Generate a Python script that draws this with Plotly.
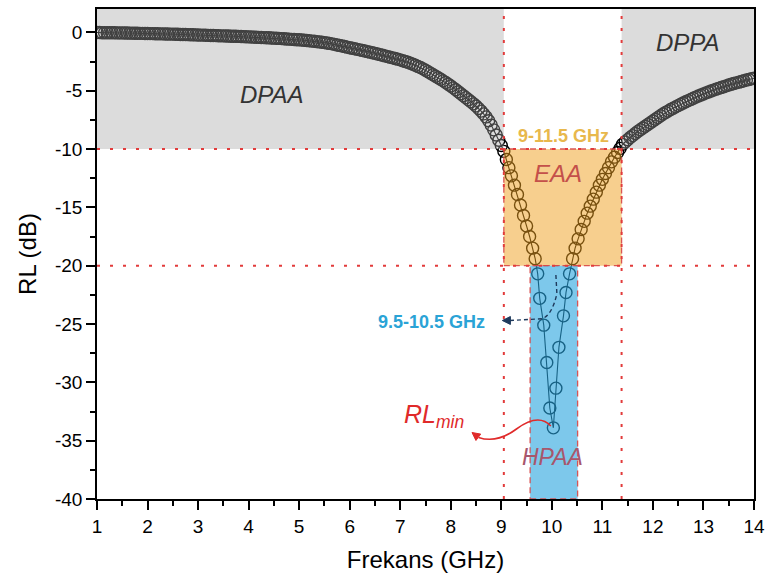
import plotly.graph_objects as go

# ---- data ----
freq_left = [1.00, 1.05, 1.10, 1.15, 1.20, 1.25, 1.30, 1.35, 1.40, 1.45,
             1.50, 1.55, 1.60, 1.65, 1.70, 1.75, 1.80, 1.85, 1.90, 1.95,
             2.00, 2.05, 2.10, 2.15, 2.20, 2.25, 2.30, 2.35, 2.40, 2.45,
             2.50, 2.55, 2.60, 2.65, 2.70, 2.75, 2.80, 2.85, 2.90, 2.95,
             3.00, 3.05, 3.10, 3.15, 3.20, 3.25, 3.30, 3.35, 3.40, 3.45,
             3.50, 3.55, 3.60, 3.65, 3.70, 3.75, 3.80, 3.85, 3.90, 3.95,
             4.00, 4.05, 4.10, 4.15, 4.20, 4.25, 4.30, 4.35, 4.40, 4.45,
             4.50, 4.55, 4.60, 4.65, 4.70, 4.75, 4.80, 4.85, 4.90, 4.95,
             5.00, 5.05, 5.10, 5.15, 5.20, 5.25, 5.30, 5.35, 5.40, 5.45,
             5.50, 5.55, 5.60, 5.65, 5.70, 5.75, 5.80, 5.85, 5.90, 5.95,
             6.00, 6.05, 6.10, 6.15, 6.20, 6.25, 6.30, 6.35, 6.40, 6.45,
             6.50, 6.55, 6.60, 6.65, 6.70, 6.75, 6.80, 6.85, 6.90, 6.95,
             7.00, 7.05, 7.10, 7.15, 7.20, 7.25, 7.30, 7.35, 7.40, 7.45,
             7.50, 7.55, 7.60, 7.65, 7.70, 7.75, 7.80, 7.85, 7.90, 7.95,
             8.00, 8.05, 8.10, 8.15, 8.20, 8.25, 8.30, 8.35, 8.40, 8.45,
             8.50, 8.55, 8.60, 8.65, 8.70, 8.75, 8.80, 8.85, 8.90, 8.95, 9.00]
rl_left = [-0.02, -0.02, -0.03, -0.03, -0.03, -0.04, -0.04, -0.04, -0.05, -0.05,
           -0.05, -0.06, -0.06, -0.07, -0.07, -0.08, -0.08, -0.09, -0.09, -0.10,
           -0.10, -0.11, -0.11, -0.12, -0.12, -0.13, -0.13, -0.14, -0.14, -0.15,
           -0.15, -0.16, -0.17, -0.18, -0.18, -0.19, -0.20, -0.21, -0.21, -0.22,
           -0.23, -0.24, -0.24, -0.25, -0.26, -0.27, -0.27, -0.28, -0.29, -0.30,
           -0.30, -0.31, -0.32, -0.33, -0.33, -0.34, -0.35, -0.36, -0.37, -0.38,
           -0.39, -0.40, -0.41, -0.42, -0.43, -0.44, -0.45, -0.46, -0.47, -0.48,
           -0.50, -0.51, -0.52, -0.54, -0.55, -0.57, -0.58, -0.60, -0.61, -0.63,
           -0.64, -0.66, -0.68, -0.70, -0.72, -0.75, -0.77, -0.80, -0.82, -0.85,
           -0.88, -0.92, -0.95, -0.99, -1.03, -1.08, -1.12, -1.17, -1.22, -1.27,
           -1.32, -1.37, -1.41, -1.46, -1.50, -1.55, -1.60, -1.65, -1.70, -1.75,
           -1.80, -1.86, -1.91, -1.97, -2.02, -2.08, -2.13, -2.19, -2.24, -2.30,
           -2.36, -2.43, -2.50, -2.57, -2.65, -2.73, -2.82, -2.92, -3.02, -3.13,
           -3.25, -3.37, -3.50, -3.63, -3.76, -3.89, -4.02, -4.16, -4.30, -4.45,
           -4.60, -4.76, -4.92, -5.09, -5.26, -5.43, -5.60, -5.77, -5.95, -6.13,
           -6.32, -6.53, -6.75, -6.99, -7.25, -7.58, -7.95, -8.36, -8.80, -9.25, -9.70]

freq_dip = [9.05, 9.10, 9.15, 9.20, 9.26, 9.32, 9.38, 9.44, 9.50, 9.56, 9.62, 9.67,
            9.72, 9.76, 9.84, 9.90, 9.96, 10.03,
            10.08, 10.14, 10.23, 10.28, 10.35,
            10.41, 10.46, 10.52, 10.58, 10.64, 10.70, 10.76, 10.82, 10.88, 10.94,
            11.00, 11.06, 11.12, 11.18, 11.24, 11.30, 11.35]
rl_dip = [-10.2, -10.9, -11.6, -12.3, -13.1, -13.9, -14.8, -15.7, -16.6, -17.5, -18.5, -19.4,
          -20.7, -22.8, -25.1, -28.3, -32.2, -33.9,
          -30.5, -27.0, -24.3, -22.3, -20.7,
          -19.4, -18.5, -17.7, -16.9, -16.2, -15.5, -14.9, -14.3, -13.7, -13.1,
          -12.6, -12.1, -11.6, -11.1, -10.7, -10.3, -9.95]

freq_right = [11.40, 11.45, 11.50, 11.55, 11.60, 11.65, 11.70, 11.75, 11.80, 11.85,
              11.90, 11.95, 12.00, 12.05, 12.10, 12.15, 12.20, 12.25, 12.30, 12.35,
              12.40, 12.45, 12.50, 12.55, 12.60, 12.65, 12.70, 12.75, 12.80, 12.85,
              12.90, 12.95, 13.00, 13.05, 13.10, 13.15, 13.20, 13.25, 13.30, 13.35,
              13.40, 13.45, 13.50, 13.55, 13.60, 13.65, 13.70, 13.75, 13.80, 13.85,
              13.90, 13.95, 14.00]
rl_right = [-9.60, -9.40, -9.20, -9.02, -8.85, -8.67, -8.50, -8.35, -8.20, -8.05,
            -7.90, -7.75, -7.60, -7.45, -7.30, -7.15, -7.00, -6.87, -6.75, -6.62,
            -6.50, -6.39, -6.28, -6.17, -6.06, -5.95, -5.85, -5.75, -5.65, -5.55,
            -5.46, -5.37, -5.28, -5.19, -5.11, -5.03, -4.95, -4.87, -4.80, -4.73,
            -4.66, -4.59, -4.52, -4.45, -4.39, -4.33, -4.27, -4.21, -4.15, -4.09,
            -4.04, -3.98, -3.93]

x_ticks = [1, 2, 3, 4, 5, 6, 7, 8, 9, 10, 11, 12, 13, 14]
x_labels = ["1", "2", "3", "4", "5", "6", "7", "8", "9", "10", "11", "12", "13", "14"]
y_ticks = [0, -5, -10, -15, -20, -25, -30, -35, -40]
y_labels = ["0", "-5", "-10", "-15", "-20", "-25", "-30", "-35", "-40"]

# region boundaries (GHz / dB)
band_lo, band_hi = 9.05, 11.38
hp_lo, hp_hi = 9.57, 10.51
rl10, rl20 = -10, -20

freq = freq_left + freq_dip + freq_right
rl = rl_left + rl_dip + rl_right

FONT = "Liberation Sans, Arial, sans-serif"

fig = go.Figure()
fig.add_trace(go.Scatter(
    x=freq, y=rl, mode="lines+markers",
    line=dict(color="black", width=1.1),
    marker=dict(symbol="circle-open", size=12, color="black", line=dict(width=1.4)),
    showlegend=False, hoverinfo="skip"))

shapes = []
# translucent region overlays (above the curve)
shapes.append(dict(type="rect", xref="x", yref="y", x0=1, x1=band_lo, y0=rl10, y1=2,
                   fillcolor="rgba(165,165,165,0.39)", line=dict(width=0), layer="above"))
shapes.append(dict(type="rect", xref="x", yref="y", x0=band_hi, x1=14, y0=rl10, y1=2,
                   fillcolor="rgba(165,165,165,0.39)", line=dict(width=0), layer="above"))
shapes.append(dict(type="rect", xref="x", yref="y", x0=band_lo, x1=band_hi, y0=rl20, y1=rl10,
                   fillcolor="rgba(240,160,30,0.5)",
                   line=dict(width=1.3, color="rgba(215,70,70,0.9)", dash="6px,4px"), layer="above"))
shapes.append(dict(type="rect", xref="x", yref="y", x0=hp_lo, x1=hp_hi, y0=-40, y1=rl20,
                   fillcolor="rgba(38,163,222,0.6)",
                   line=dict(width=1.3, color="rgba(215,70,70,0.9)", dash="6px,4px"), layer="above"))
# dotted guide lines
for yv in (rl10, rl20):
    shapes.append(dict(type="line", xref="x", yref="y", x0=1, x1=14, y0=yv, y1=yv,
                       line=dict(color="#e23b3b", width=2, dash="3px,10px"), layer="above"))
for xv in (band_lo, band_hi):
    shapes.append(dict(type="line", xref="x", yref="y", x0=xv, x1=xv, y0=-40, y1=2,
                       line=dict(color="#e23b3b", width=2, dash="3px,9px"), layer="above"))
# dashed connector for 9.5-10.5 GHz label, with arrowhead
shapes.append(dict(type="path", xref="x", yref="y",
                   path="M 10.08,-20.8 L 10.10,-22.4 Q 10.0,-24.3 9.80,-24.55 L 9.17,-24.7",
                   line=dict(color="#1f3a5c", width=1.4, dash="4px,3px"), layer="above"))
shapes.append(dict(type="path", xref="x", yref="y",
                   path="M 9.02,-24.7 L 9.18,-24.36 L 9.18,-25.04 Z",
                   fillcolor="#1f3a5c", line=dict(color="#1f3a5c", width=1), layer="above"))
# red curved arrow for RLmin, with arrowhead
shapes.append(dict(type="path", xref="x", yref="y",
                   path="M 9.98,-33.75 C 9.80,-32.9 9.55,-33.2 9.30,-34.0 S 8.80,-35.1 8.55,-34.72",
                   line=dict(color="#e02a2a", width=1.6), layer="above"))
shapes.append(dict(type="path", xref="x", yref="y",
                   path="M 8.42,-34.3 L 8.592,-34.437 L 8.498,-34.984 Z",
                   fillcolor="#e02a2a", line=dict(color="#e02a2a", width=1), layer="above"))

annotations = [
    dict(x=4.46, y=-5.3, text="<i>DPAA</i>", showarrow=False,
         font=dict(family=FONT, size=24, color="#333333")),
    dict(x=12.69, y=-0.9, text="<i>DPPA</i>", showarrow=False,
         font=dict(family=FONT, size=24, color="#333333")),
    dict(x=10.12, y=-12.1, text="<i>EAA</i>", showarrow=False,
         font=dict(family=FONT, size=24, color="#c4504a")),
    dict(x=10.02, y=-36.4, text="<i>HPAA</i>", showarrow=False,
         font=dict(family=FONT, size=23, color="#a8566c")),
    dict(x=10.24, y=-8.9, text="<b>9-11.5 GHz</b>", showarrow=False,
         font=dict(family=FONT, size=18, color="#e8b84c")),
    dict(x=8.72, y=-24.8, text="<b>9.5-10.5 GHz</b>", showarrow=False, xanchor="right",
         font=dict(family=FONT, size=18, color="#2aa3d6")),
    dict(x=7.67, y=-32.9, text="<i>RL<sub>min</sub></i>", showarrow=False,
         font=dict(family=FONT, size=25, color="#e02a2a")),
]

fig.update_layout(
    width=772, height=586,
    margin=dict(l=97, r=12, t=7, b=87),
    paper_bgcolor="white", plot_bgcolor="white",
    font=dict(family=FONT, color="black"),
    shapes=shapes, annotations=annotations,
    xaxis=dict(range=[1, 14], tickvals=x_ticks, ticktext=x_labels, ticks="outside", ticklen=9,
               tickwidth=1.5, tickcolor="black", showline=True, linewidth=1.5, linecolor="black",
               mirror=True, showgrid=False, zeroline=False,
               minor=dict(dtick=0.5, tick0=1, ticks="outside", ticklen=5, tickwidth=1.5, tickcolor="black"),
               tickfont=dict(family=FONT, size=19),
               title=dict(text="Frekans (GHz)", font=dict(family=FONT, size=24), standoff=16)),
    yaxis=dict(range=[-40, 2], tickvals=y_ticks, ticktext=y_labels, ticks="outside", ticklen=9,
               tickwidth=1.5, tickcolor="black", showline=True, linewidth=1.5, linecolor="black",
               mirror=True, showgrid=False, zeroline=False,
               minor=dict(dtick=2.5, tick0=0, ticks="outside", ticklen=5, tickwidth=1.5, tickcolor="black"),
               tickfont=dict(family=FONT, size=19),
               title=dict(text="RL (dB)", font=dict(family=FONT, size=24), standoff=12)),
)

fig.write_html("out.html")
